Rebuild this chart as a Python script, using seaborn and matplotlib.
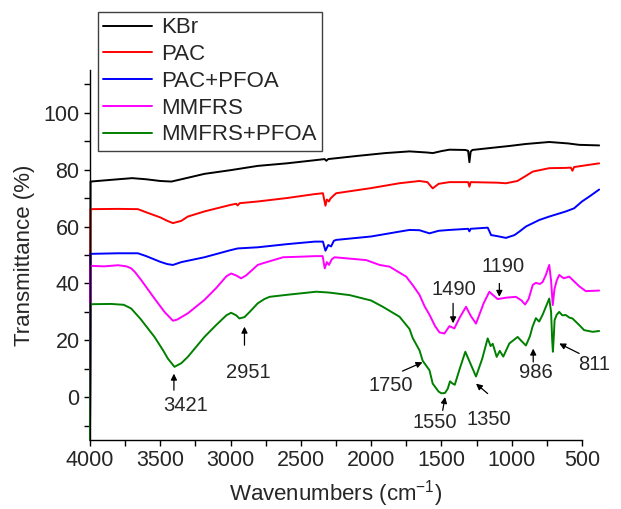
import matplotlib
matplotlib.use('Agg')
import matplotlib.pyplot as plt
import pandas as pd
import seaborn as sns
from matplotlib.ticker import MultipleLocator

# ---------------- data ----------------
samples = ["KBr", "PAC", "PAC+PFOA", "MMFRS", "MMFRS+PFOA"]
colors = ["#000000", "#FF0000", "#0000FF", "#FF00FF", "#008000"]

kbr_wn = [4000, 3996, 3850, 3700, 3600, 3500, 3421, 3350, 3186, 3000,
          2807, 2600, 2400, 2330, 2319, 2305, 2100, 1900, 1727, 1600,
          1562, 1500, 1443, 1330, 1310, 1301, 1292, 1280, 1150, 1017,
          900, 733, 600, 520, 378]
kbr_t = [-15, 75.8, 76.4, 77.0, 76.6, 76.0, 75.8, 76.6, 78.5, 79.8,
         81.3, 82.2, 83.3, 83.7, 83.1, 83.7, 84.8, 85.8, 86.4, 86.0,
         85.8, 86.5, 87.0, 86.9, 86.6, 82.6, 86.3, 86.9, 87.6, 88.3,
         89.0, 89.7, 89.2, 88.7, 88.5]

pac_wn = [4000, 3996, 3800, 3659, 3600, 3500, 3450, 3410, 3350, 3304,
          3186, 3000, 2960, 2950, 2935, 2807, 2600, 2400, 2343, 2325,
          2315, 2300, 2290, 2265, 2248, 2000, 1800, 1656, 1600, 1562,
          1520, 1443, 1310, 1301, 1292, 1100, 1041, 960, 899, 850,
          733, 615, 580, 568, 556, 378]
pac_t = [-15, 66.1, 66.2, 66.1, 65.0, 63.2, 62.0, 61.2, 62.0, 63.5,
         65.3, 67.6, 68.0, 67.4, 68.2, 68.8, 70.0, 71.4, 71.7, 67.3,
         69.5, 68.8, 69.8, 71.0, 71.7, 73.5, 75.2, 76.0, 75.6, 73.4,
         75.0, 75.6, 75.6, 74.0, 75.6, 75.4, 75.2, 76.0, 77.8, 79.3,
         80.5, 80.6, 80.7, 79.6, 80.9, 82.2]

pacp_wn = [4000, 3996, 3800, 3659, 3600, 3500, 3450, 3410, 3350, 3186,
           3000, 2949, 2807, 2600, 2400, 2343, 2325, 2305, 2285, 2265,
           2248, 2000, 1800, 1727, 1656, 1585, 1520, 1443, 1310, 1301,
           1292, 1171, 1160, 1147, 1100, 1041, 980, 946, 899, 804,
           733, 615, 556, 500, 440, 378]
pacp_t = [-15, 50.4, 50.6, 50.6, 49.6, 47.6, 46.8, 46.5, 47.5, 49.2,
          51.7, 52.3, 52.7, 53.8, 54.7, 54.7, 51.5, 53.5, 53.0, 55.0,
          55.3, 56.5, 58.2, 58.8, 58.7, 57.6, 58.5, 58.8, 59.2, 58.3,
          59.2, 59.6, 58.5, 57.0, 56.6, 56.0, 57.0, 58.2, 60.0, 62.3,
          63.5, 65.3, 66.4, 68.8, 70.8, 73.0]

mm_wn = [4000, 3996, 3900, 3800, 3740, 3707, 3680, 3636, 3541, 3470,
         3410, 3380, 3304, 3186, 3100, 3030, 2996, 2960, 2925, 2890,
         2840, 2807, 2769, 2627, 2500, 2400, 2345, 2330, 2315, 2300,
         2280, 2260, 2035, 1940, 1869, 1751, 1704, 1656, 1620, 1585,
         1545, 1514, 1479, 1443, 1408, 1370, 1325, 1290, 1254, 1200,
         1159, 1147, 1100, 1040, 970, 930, 905, 880, 850, 828,
         800, 780, 757, 733, 720, 708, 696, 680, 662, 630,
         591, 520, 473, 378]
mm_t = [-15, 46.2, 46.0, 46.4, 46.0, 45.3, 44.0, 41.2, 34.7, 30.0,
        26.9, 27.3, 29.5, 34.2, 38.5, 42.5, 43.5, 42.8, 41.8, 42.8,
        45.0, 46.5, 47.1, 49.2, 49.4, 49.6, 49.6, 45.3, 47.5, 46.5,
        48.5, 49.2, 48.2, 46.5, 45.9, 42.4, 39.4, 36.0, 32.0, 29.0,
        25.0, 22.8, 22.4, 25.0, 24.2, 28.0, 31.8, 28.5, 25.9, 33.0,
        37.1, 36.5, 34.5, 35.0, 35.3, 34.0, 32.6, 34.5, 39.5, 40.2,
        39.8, 40.5, 43.0, 46.5, 41.0, 32.4, 38.0, 41.0, 43.0, 41.8,
        42.4, 39.0, 37.3, 37.5]

mmp_wn = [4000, 3996, 3850, 3760, 3707, 3640, 3541, 3480, 3446, 3399,
          3350, 3304, 3186, 3100, 3030, 2996, 2960, 2937, 2900, 2864,
          2807, 2760, 2722, 2600, 2390, 2300, 2153, 2000, 1917, 1798,
          1727, 1704, 1656, 1633, 1585, 1562, 1520, 1500, 1475, 1455,
          1439, 1420, 1405, 1370, 1330, 1295, 1254, 1210, 1171, 1150,
          1135, 1107, 1085, 1060, 1017, 958, 935, 899, 870, 852,
          828, 805, 780, 757, 733, 720, 712, 707, 700, 695,
          680, 662, 640, 615, 590, 568, 520, 485, 424, 378]
mmp_t = [-15, 32.7, 32.8, 32.5, 31.2, 27.5, 21.2, 16.5, 13.6, 10.7,
         12.0, 14.2, 21.2, 25.5, 28.8, 29.7, 28.8, 27.7, 28.2, 30.0,
         33.0, 34.5, 35.3, 36.0, 37.1, 36.8, 35.9, 34.0, 31.8, 28.3,
         24.0, 20.8, 16.5, 12.8, 9.5, 4.8, 2.0, 1.4, 1.5, 3.0,
         5.6, 4.8, 4.4, 10.0, 16.0, 12.0, 7.3, 13.5, 20.7, 18.0,
         18.8, 14.2, 16.3, 14.3, 18.9, 21.2, 20.0, 18.2, 21.5, 24.8,
         27.8, 26.6, 29.0, 31.8, 34.7, 30.0, 20.0, 16.0, 22.0, 27.1,
         29.0, 30.0, 28.8, 28.9, 28.0, 27.7, 25.4, 23.6, 23.0, 23.3]

# peak annotations: label, text position, arrow tail, arrow head (wavenumber, %T)
ann_labels = ["3421", "2951", "1750", "1550", "1350", "1490", "1190", "986", "811"]
ann_text = [(3322, -3.0), (2872, 8.6), (1862, 4.2), (1544, -8.7), (1165, -7.7),
            (1414, 38.0), (1065, 45.8), (828, 8.6), (416, 11.6)]
ann_tail = [(3403, 2.5), (2901, 18.3), (1777, 9.2), (1491, -4.6), (1171, 1.3),
            (1417, 33.0), (1088, 40.0), (847, 12.4), (520, 15.4)]
ann_head = [(3403, 8.3), (2901, 24.8), (1635, 12.3), (1474, 0.1), (1254, 4.8),
            (1417, 26.0), (1088, 35.3), (847, 17.1), (662, 18.9)]

# ---------------- build long table ----------------
series = [(kbr_wn, kbr_t), (pac_wn, pac_t), (pacp_wn, pacp_t), (mm_wn, mm_t), (mmp_wn, mmp_t)]
frames = []
for name, (wn, t) in zip(samples, series):
    frames.append(pd.DataFrame({"wn": wn, "T": t, "sample": name}))
df = pd.concat(frames, ignore_index=True)

# ---------------- style ----------------
sns.set_style("ticks")
plt.rcParams["font.family"] = ["Liberation Sans", "DejaVu Sans"]
plt.rcParams["mathtext.fontset"] = "custom"
plt.rcParams["mathtext.rm"] = "Liberation Sans"
plt.rcParams["mathtext.it"] = "Liberation Sans:italic"
plt.rcParams["mathtext.default"] = "regular"

fig = plt.figure(figsize=(6.21, 5.09), dpi=100)
ax = fig.add_axes([0.1449, 0.1356, 0.7923, 0.7269])

sns.lineplot(data=df, x="wn", y="T", hue="sample", hue_order=samples,
             palette=dict(zip(samples, colors)), estimator=None, sort=False,
             linewidth=1.4, ax=ax)
for ln in ax.lines:
    ln.set_clip_on(False)

ax.set_xlim(4000, 500)
ax.set_ylim(-15, 115)
ax.xaxis.set_major_locator(MultipleLocator(500))
ax.xaxis.set_minor_locator(MultipleLocator(250))
ax.yaxis.set_major_locator(MultipleLocator(20))
ax.yaxis.set_minor_locator(MultipleLocator(10))
ax.tick_params(which="both", direction="out", length=4, width=1, labelsize=15.5, color="black")
sns.despine(ax=ax)
for s in ["left", "bottom"]:
    ax.spines[s].set_linewidth(1)
    ax.spines[s].set_color("black")

ax.set_xlabel("Wavenumbers (cm$^{-1}$)", fontsize=16, labelpad=5)
ax.set_ylabel("Transmittance (%)", fontsize=16, labelpad=6)

for lab, tp, tl, hd in zip(ann_labels, ann_text, ann_tail, ann_head):
    ax.annotate("", xy=hd, xytext=tl,
                arrowprops=dict(arrowstyle="-|>", color="black", lw=0.9,
                                mutation_scale=9, shrinkA=0, shrinkB=0),
                annotation_clip=False)
    ax.text(tp[0], tp[1], lab, ha="center", va="center", fontsize=14.5, clip_on=False)

handles, labels = ax.get_legend_handles_labels()
ax.legend(handles, labels, loc="upper left", bbox_to_anchor=(0.158, 0.976),
          bbox_transform=fig.transFigure, frameon=True, fancybox=False,
          edgecolor="#404040", framealpha=1, fontsize=16, handlelength=2.2,
          handletextpad=0.4, labelspacing=0.26, borderpad=0.23, borderaxespad=0)

fig.savefig("out.png", dpi=100)
